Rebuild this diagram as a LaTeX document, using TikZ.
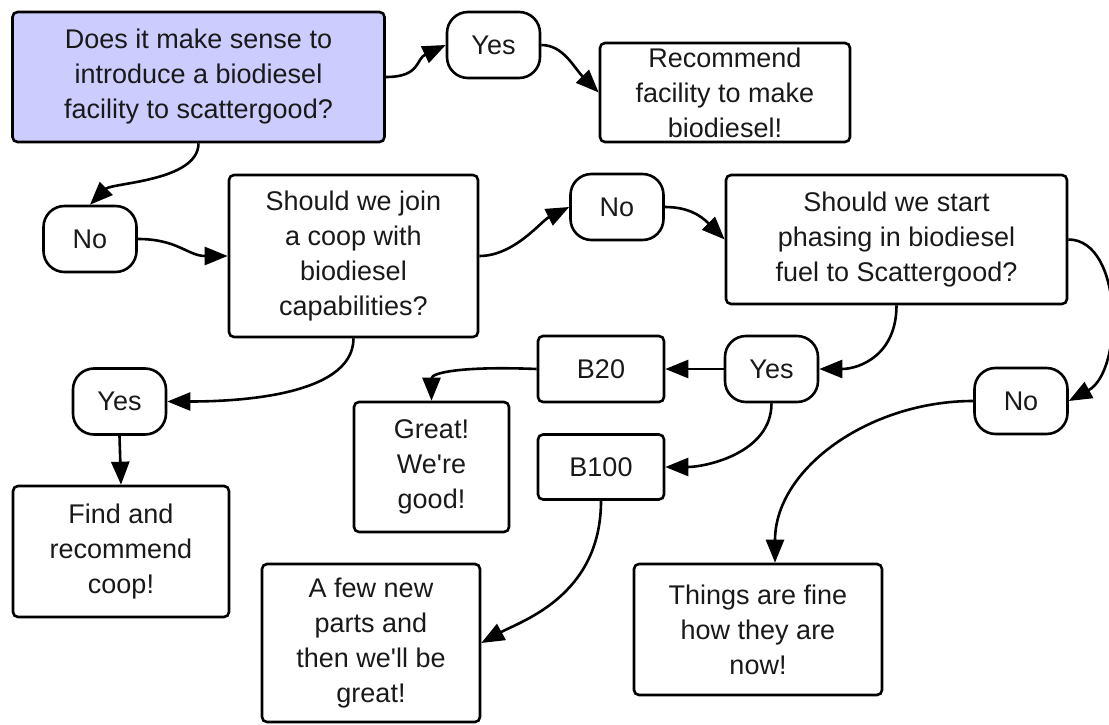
\documentclass[tikz,border=0pt]{standalone}
\usepackage{fontspec}
\setmainfont{Liberation Sans}
\usetikzlibrary{arrows.meta}
\definecolor{qblue}{RGB}{204,204,255}

\tikzset{every picture/.style={line width=0.75pt}}
\tikzset{
  qbox/.style={draw, rectangle, rounded corners=5pt, line width=2.6pt, align=center, inner sep=0pt,
    font=\fontsize{27}{35}\selectfont, text=black!90},
  pill/.style={qbox, rounded corners=21pt, minimum width=93pt, minimum height=66pt},
  flow/.style={-{Triangle[length=23pt,width=18pt]}, line width=2.6pt}
}

\begin{document}
\begin{tikzpicture}[x=1pt,y=1pt,yscale=-1,xscale=1]
\useasboundingbox (0,0) rectangle (1109,725);

%Shape: Rounded Rect (questions)
\node [qbox, fill=qblue, minimum width=372pt, minimum height=130pt] (q1) at (198.5,77) {Does it make sense to\\introduce a biodiesel\\facility to scattergood?};
\node [qbox, minimum width=249pt, minimum height=162pt] (q2) at (353.5,256) {Should we join\\a coop with\\biodiesel\\capabilities?};
\node [qbox, minimum width=341pt, minimum height=129pt] (q3) at (896.5,239.5) {Should we start\\phasing in biodiesel\\fuel to Scattergood?};

%Shape: Pills (answers)
\node [pill] (yesA) at (493.5,45) {Yes};
\node [pill] (noA) at (90,239) {No};
\node [pill] (noB) at (617,207) {No};
\node [pill] (yesB) at (119.5,401.5) {Yes};
\node [pill] (yesC) at (771.5,369) {Yes};
\node [pill] (noC) at (1021,401) {No};

%Shape: Rounded Rect (results)
\node [qbox, minimum width=250pt, minimum height=99pt] (rec) at (725,92.5) {Recommend\\facility to make\\biodiesel!};
\node [qbox, minimum width=126pt, minimum height=66pt] (b20) at (601,369) {B20};
\node [qbox, minimum width=126pt, minimum height=65pt] (b100) at (601,467) {B100};
\node [qbox, minimum width=155pt, minimum height=130pt] (great) at (431.5,467) {Great!\\We\textquotesingle re\\good!};
\node [qbox, minimum width=216pt, minimum height=131pt] (find) at (121,551.5) {Find and\\recommend\\coop!};
\node [qbox, minimum width=218pt, minimum height=158pt] (few) at (371,643) {A few new\\parts and\\then we\textquotesingle ll be\\great!};
\node [qbox, minimum width=248pt, minimum height=131pt] (fine) at (758,629.5) {Things are fine\\how they are\\now!};

%Curve Lines
\draw [flow] (q1.east) .. controls +(35,0) and +(-30,14) .. (yesA.west);
\draw [flow] (yesA.east) .. controls +(22,0) and +(-25,-25) .. (rec.west);
\draw [flow] (q1.south) .. controls +(0,38) and +(22,-22) .. (noA.north);
\draw [flow] (noA.east) .. controls +(40,0) and +(-40,0) .. (q2.west);
\draw [flow] (q2.east) .. controls +(35,0) and +(-28,14) .. (noB.west);
\draw [flow] (noB.east) .. controls +(22,0) and +(-25,-25) .. (q3.west);
\draw [flow] (q3.south) .. controls +(0,50) and +(40,0) .. (yesC.east);
\draw [flow] (yesC.south) .. controls +(0,50) and +(40,0) .. (b100.east);
\draw [flow] (b20.west) .. controls +(-75,-3) and +(0,-28) .. (great.north);
\draw [flow] (q3.east) .. controls +(55,0) and +(55,-30) .. (noC.east);
\draw [flow] (noC.west) .. controls +(-104,0) and +(0,-94) .. ([xshift=17pt]fine.north);
\draw [flow] (b100.south) .. controls +(0,95) and +(40,-22) .. (few.east);
\draw [flow] (q2.south) .. controls +(0,60) and +(60,0) .. (yesB.east);

%Straight Lines
\draw [flow] (yesC.west) -- (b20.east);
\draw [flow] (yesB.south) -- (find.north);

\end{tikzpicture}
\end{document}
